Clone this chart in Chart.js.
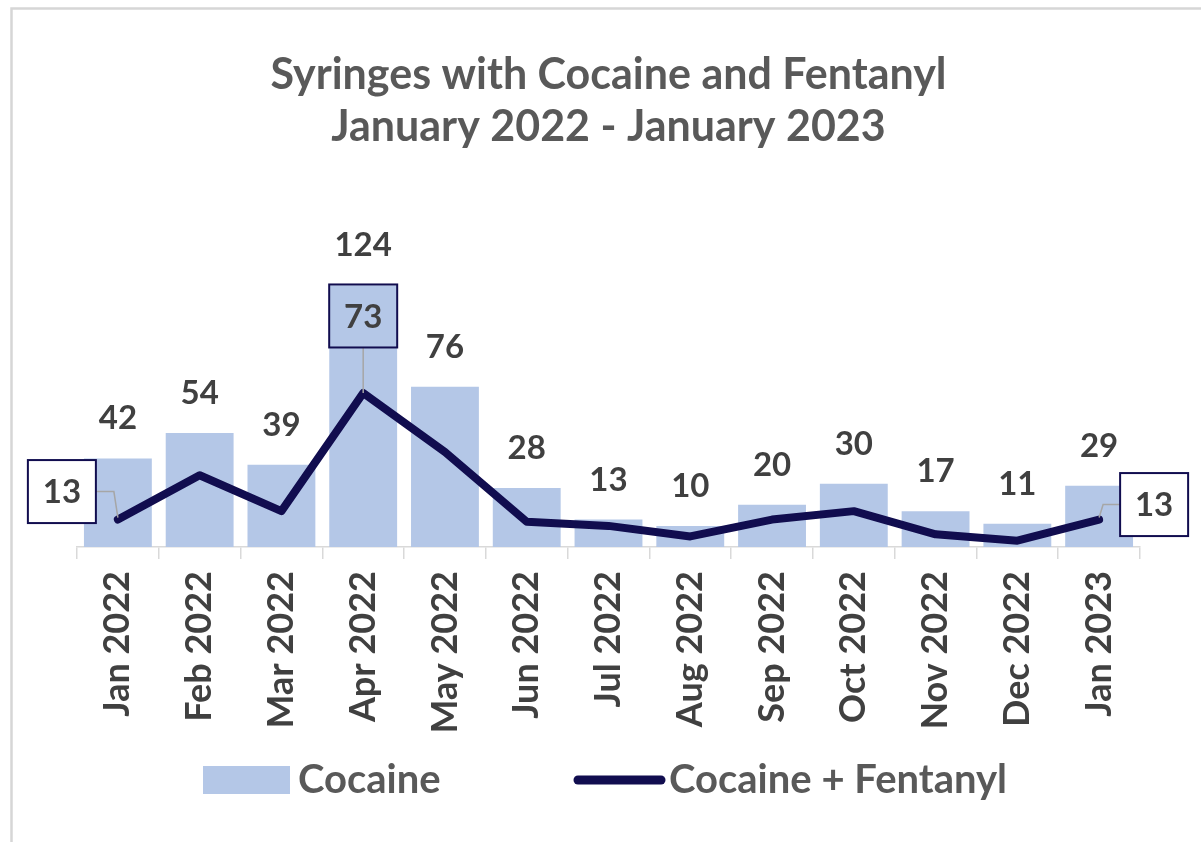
<!DOCTYPE html>
<html>
<head>
<meta charset="utf-8">
<script src="https://cdn.jsdelivr.net/npm/chart.js@4.4.1/dist/chart.umd.min.js"></script>
<style>
html,body{margin:0;padding:0;background:#fff;overflow:hidden}
#wrap{position:relative;width:1201px;height:842px}
</style>
</head>
<body>
<div id="wrap"><canvas id="c" width="1201" height="842"></canvas></div>
<script>
// ---- data ----
const categories = ['Jan 2022','Feb 2022','Mar 2022','Apr 2022','May 2022','Jun 2022','Jul 2022','Aug 2022','Sep 2022','Oct 2022','Nov 2022','Dec 2022','Jan 2023'];
const cocaine = [42,54,39,124,76,28,13,10,20,30,17,11,29];
const cocaineFentanyl = [13,34,17,73,45,12,10,5,13,17,6,3,13];
const seriesNames = ['Cocaine','Cocaine + Fentanyl'];
const titleLines = ['Syringes with Cocaine and Fentanyl','January 2022 - January 2023'];
const boxedLabelIndex = [0,3,12];

// ---- styles ----
const BAR = '#b4c7e7';
const NAVY = '#110d4f';
const FONT = 'Lato';

const decorPlugin = {
  id: 'decor',
  beforeDraw(chart) {
    const ctx = chart.ctx;
    ctx.save();
    ctx.strokeStyle = '#d6d6d6';
    ctx.lineWidth = 2.5;
    ctx.strokeRect(11.5, 8.5, 1400, 1000);
    ctx.restore();
  },
  afterDatasetsDraw(chart) {
    const ctx = chart.ctx;
    const lineMeta = chart.getDatasetMeta(0);
    const barMeta = chart.getDatasetMeta(1);
    ctx.save();
    // bar value labels
    ctx.font = 'bold 33px ' + FONT;
    ctx.fillStyle = '#404040';
    ctx.textAlign = 'center';
    ctx.textBaseline = 'alphabetic';
    barMeta.data.forEach((el, i) => {
      ctx.fillText(String(cocaine[i]), el.x, el.y - 29);
    });
    // boxed line labels
    const boxStyle = {
      0:  {dx: -56, dy: -28, fill: '#ffffff', leader: 'right'},
      3:  {dx: 0,   dy: -77, fill: null,      leader: 'down'},
      12: {dx: 55,  dy: -15, fill: '#ffffff', leader: 'left'}
    };
    const w = 68, h = 63;
    boxedLabelIndex.forEach(i => {
      const p = lineMeta.data[i];
      const s = boxStyle[i];
      const cx = p.x + s.dx, cy = p.y + s.dy;
      // leader
      ctx.strokeStyle = '#a6a6a6';
      ctx.lineWidth = 1.5;
      ctx.beginPath();
      if (s.leader === 'right') {
        ctx.moveTo(cx + w / 2, cy); ctx.lineTo(p.x - 4, cy); ctx.lineTo(p.x, p.y - 2);
      } else if (s.leader === 'left') {
        ctx.moveTo(cx - w / 2, cy); ctx.lineTo(p.x + 4, cy); ctx.lineTo(p.x, p.y - 2);
      } else {
        ctx.moveTo(cx, cy + h / 2); ctx.lineTo(p.x, p.y);
      }
      ctx.stroke();
      if (s.fill) { ctx.fillStyle = s.fill; ctx.fillRect(cx - w / 2, cy - h / 2, w, h); }
      ctx.strokeStyle = NAVY;
      ctx.lineWidth = 2;
      ctx.strokeRect(cx - w / 2, cy - h / 2, w, h);
      ctx.fillStyle = '#404040';
      ctx.textBaseline = 'middle';
      ctx.fillText(String(cocaineFentanyl[i]), cx, cy + 1);
    });
    ctx.restore();
  },
  afterDraw(chart) {
    // legend
    const ctx = chart.ctx;
    ctx.save();
    const y = 780;
    ctx.fillStyle = BAR;
    ctx.fillRect(203, y - 14, 87, 28);
    ctx.font = 'bold 40px ' + FONT;
    ctx.fillStyle = '#595959';
    ctx.textAlign = 'left';
    ctx.textBaseline = 'middle';
    ctx.fillText(seriesNames[0], 298, y);
    ctx.strokeStyle = NAVY;
    ctx.lineWidth = 9;
    ctx.lineCap = 'round';
    ctx.beginPath();
    ctx.moveTo(578, y); ctx.lineTo(661, y);
    ctx.stroke();
    ctx.fillText(seriesNames[1], 669, y);
    ctx.restore();
  }
};

new Chart(document.getElementById('c'), {
  data: {
    labels: categories,
    datasets: [
      {
        type: 'line', label: seriesNames[1], data: cocaineFentanyl,
        borderColor: NAVY, backgroundColor: NAVY, borderWidth: 8,
        pointRadius: 0, tension: 0, order: 0,
        borderJoinStyle: 'round', borderCapStyle: 'round'
      },
      {
        type: 'bar', label: seriesNames[0], data: cocaine,
        backgroundColor: BAR, categoryPercentage: 0.83, barPercentage: 1, order: 1
      }
    ]
  },
  options: {
    responsive: false,
    animation: false,
    layout: {padding: {top: 0, left: 77, right: 61, bottom: 95}},
    scales: {
      x: {
        grid: {display: true, drawOnChartArea: false, tickLength: 12, color: '#d9d9d9', lineWidth: 1.5, offset: true},
        border: {color: '#d9d9d9', width: 1.5},
        ticks: {minRotation: 90, maxRotation: 90, padding: 12, color: '#404040', font: {family: FONT, weight: 'bold', size: 36}},
        afterFit(scale) { scale.height = 200; }
      },
      y: {display: false, min: 0, max: 150}
    },
    plugins: {
      legend: {display: false},
      tooltip: {enabled: false},
      title: {
        display: true, text: titleLines, color: '#595959',
        font: {family: FONT, weight: 'bold', size: 43, lineHeight: 52 / 43},
        padding: {top: 49, bottom: 77.5}
      }
    }
  },
  plugins: [decorPlugin]
});
</script>
</body>
</html>
